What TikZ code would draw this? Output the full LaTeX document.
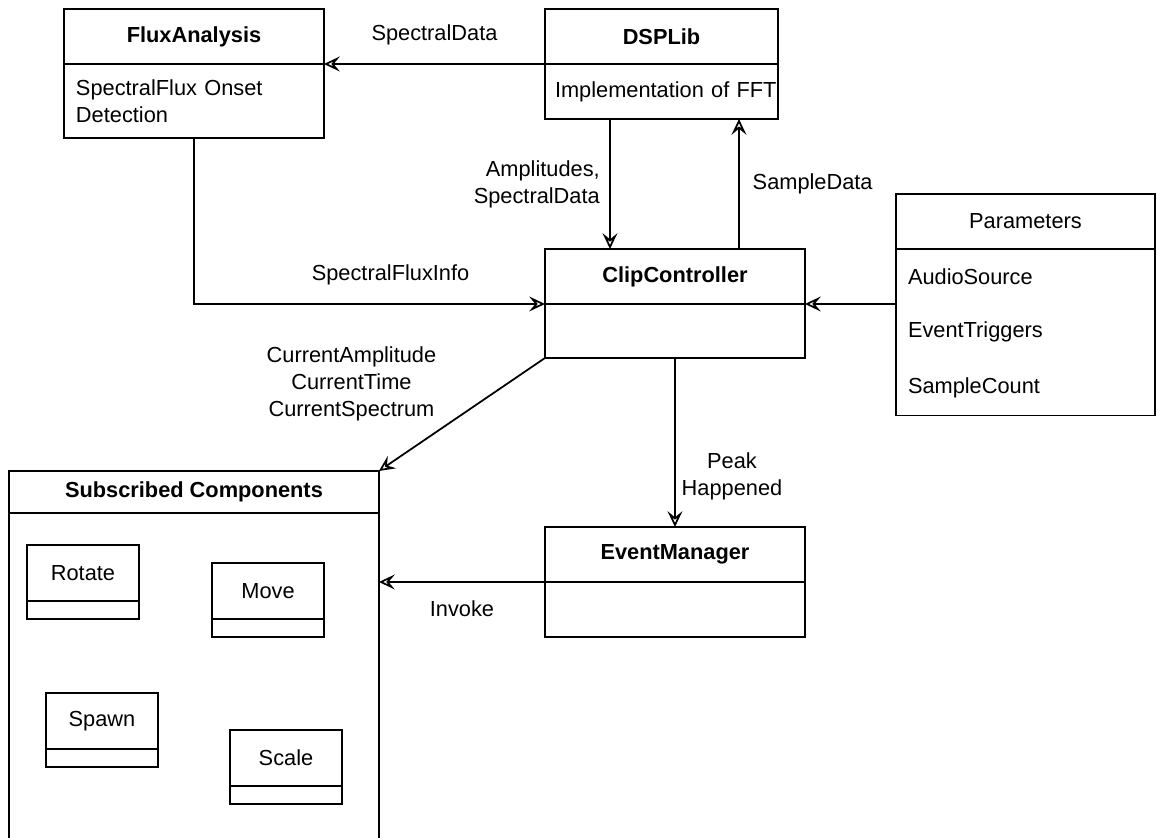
\documentclass[tikz,border=0pt]{standalone}
\usepackage{fontspec}
\setmainfont{Liberation Sans}
\usetikzlibrary{arrows.meta,positioning,fit}

\tikzset{
  hdr/.style={draw,line width=1pt,outer sep=0pt,inner sep=0pt,anchor=north west,align=center},
  bodybox/.style={draw,line width=1pt,outer sep=0pt,inner sep=0pt},
  rowbox/.style={outer sep=0pt,inner xsep=0.24cm,inner ysep=0pt,align=left},
  arr/.style={line width=1pt,-{Stealth[open,length=9pt,width=8.5pt,inset=3.5pt]}},
}

\begin{document}
\begin{tikzpicture}[x=0.02cm,y=-0.02cm,font=\fontsize{12.4}{15.3}\selectfont]
  \useasboundingbox (0,0) rectangle (1157,838);

  % classes along the top
  \node[hdr,minimum width=5.2cm,minimum height=1.1cm] (fluxh) at (64,9) {\bfseries FluxAnalysis};
  \node[bodybox,rowbox,text width=4.72cm,minimum height=1.48cm,below=0pt of fluxh] (fluxb) {SpectralFlux Onset\\Detection};
  \node[hdr,minimum width=4.66cm,minimum height=1.1cm] (dsph) at (545,9) {\bfseries DSPLib};
  \node[bodybox,rowbox,inner xsep=0.2cm,text width=4.26cm,minimum height=1.1cm,below=0pt of dsph] (dspb) {\mbox{Implementation of FFT}};

  % controller and event manager
  \node[hdr,minimum width=5.2cm,minimum height=1.1cm] (cliph) at (545,249) {\bfseries ClipController};
  \node[bodybox,minimum width=5.2cm,minimum height=1.08cm,below=0pt of cliph] (clipb) {};
  \node[hdr,minimum width=5.2cm,minimum height=1.1cm] (evh) at (545,527) {\bfseries EventManager};
  \node[bodybox,minimum width=5.2cm,minimum height=1.1cm,below=0pt of evh] (evb) {};

  % parameters
  \node[hdr,minimum width=5.18cm,minimum height=1.1cm] (parh) at (896,194) {Parameters};
  \node[rowbox,text width=4.7cm,minimum height=1.11cm,below=0pt of parh] (audio) {AudioSource};
  \node[rowbox,text width=4.7cm,minimum height=1.11cm,below=0pt of audio] (trig) {EventTriggers};
  \node[rowbox,text width=4.7cm,minimum height=1.11cm,below=0pt of trig] (count) {SampleCount};
  \node[bodybox,fit=(audio)(count)] (parb) {};

  % subscribed components
  \node[hdr,minimum width=7.4cm,minimum height=0.84cm] (subh) at (9,471) {\bfseries Subscribed Components};
  \node[bodybox,minimum width=7.4cm,minimum height=6.64cm,below=0pt of subh] (subb) {};
  \foreach \nm/\x/\y/\txt in {rot/27/545/Rotate, mov/212/563/Move, spw/46/693/Spawn, scl/230/730/Scale}{
    \node[hdr,minimum width=2.24cm,minimum height=1.12cm] (\nm) at (\x,\y) {\txt};
    \node[bodybox,minimum width=2.24cm,minimum height=0.36cm,below=0pt of \nm] (\nm b) {};
  }

  % connectors
  \draw[arr] (dsph.south west) -- node[above=7pt] {SpectralData} (fluxh.south east);
  \draw[arr] ([xshift=1.3cm]dspb.south west) -- node[left=2pt,align=right] {Amplitudes,\\SpectralData} ([xshift=1.3cm]dspb.south west |- cliph.north);
  \draw[arr] ([xshift=3.88cm]cliph.north west) -- node[right=4pt] {SampleData} ([xshift=3.88cm]cliph.north west |- dspb.south);
  \draw[arr] (fluxb.south) |- node[pos=0.78,above=7pt] {SpectralFluxInfo} (cliph.south west);
  \draw[arr] (cliph.south east -| parb.west) -- (cliph.south east);
  \draw[arr] (clipb.south west) -- node[midway,anchor=south east,align=center,xshift=-0.38cm,yshift=-0.26cm] {CurrentAmplitude\\CurrentTime\\CurrentSpectrum} (subh.north east);
  \draw[arr] (clipb.south) -- node[pos=0.7,right=0pt,align=center] {Peak\\Happened} (evh.north);
  \draw[arr] (evh.south west) -- node[below=7pt] {Invoke} (evh.south west -| subb.east);
\end{tikzpicture}
\end{document}
